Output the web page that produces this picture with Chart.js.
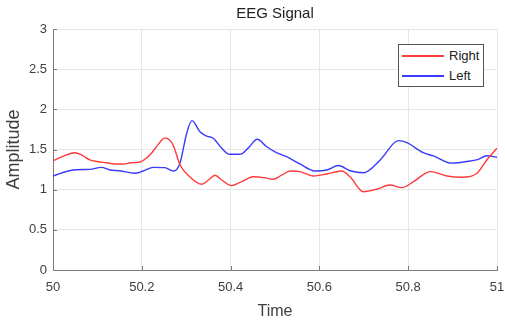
<!DOCTYPE html>
<html>
<head>
<meta charset="utf-8">
<script src="https://cdn.jsdelivr.net/npm/chart.js@4.4.1/dist/chart.umd.min.js"></script>
<style>
  html, body { margin: 0; padding: 0; background: #fff; }
  #wrap { position: relative; width: 505px; height: 322px; }
  #legend { position: absolute; left: 398px; top: 44px; width: 84px; height: 41px;
            border: 1px solid #555; background: #fff; font-family: "Liberation Sans", Arial, sans-serif;
            font-size: 13px; color: #222; }
  .item { position: absolute; left: 0; height: 16px; width: 84px; }
  .sw { position: absolute; left: 3px; top: 7px; width: 42px; height: 1.5px; }
  .lb { position: absolute; left: 50px; top: 0; line-height: 16px; }
</style>
</head>
<body>
<div id="wrap">
  <canvas id="c" width="505" height="322"></canvas>
  <div id="legend"></div>
</div>
<script>
const titleText = 'EEG Signal';
const xTitle = 'Time';
const yTitle = 'Amplitude';
const seriesLabels = ['Right', 'Left'];
const seriesColors = ['#ff3a3a', '#3a3aff'];

const rightTime = [50.000,50.025,50.049,50.065,50.083,50.100,50.120,50.140,50.158,50.175,50.196,50.218,50.238,50.252,50.262,50.271,50.286,50.308,50.335,50.350,50.365,50.380,50.402,50.425,50.451,50.475,50.496,50.515,50.534,50.556,50.586,50.617,50.650,50.669,50.699,50.729,50.759,50.786,50.812,50.850,50.887,50.921,50.955,50.977,51.000];
const rightValues = [1.36,1.42,1.46,1.43,1.37,1.35,1.335,1.32,1.32,1.335,1.345,1.43,1.57,1.645,1.62,1.55,1.31,1.16,1.067,1.12,1.18,1.12,1.05,1.10,1.16,1.15,1.13,1.18,1.232,1.225,1.17,1.195,1.232,1.16,0.975,1.005,1.058,1.025,1.10,1.224,1.17,1.154,1.204,1.37,1.515];

const leftTime = [50.000,50.045,50.083,50.109,50.128,50.150,50.184,50.203,50.226,50.252,50.271,50.286,50.301,50.313,50.331,50.345,50.361,50.380,50.398,50.421,50.440,50.460,50.480,50.500,50.526,50.556,50.590,50.617,50.643,50.669,50.699,50.737,50.778,50.797,50.834,50.857,50.898,50.940,50.958,50.977,51.000];
const leftValues = [1.17,1.245,1.253,1.278,1.245,1.236,1.204,1.232,1.278,1.274,1.232,1.33,1.70,1.86,1.72,1.67,1.64,1.515,1.44,1.44,1.52,1.627,1.54,1.47,1.41,1.32,1.232,1.245,1.30,1.236,1.21,1.37,1.61,1.585,1.46,1.42,1.33,1.357,1.378,1.423,1.403];

const xMin = 50, xMax = 51, xStep = 0.2;
const yMin = 0, yMax = 3, yStep = 0.5;

const FONT = '"Liberation Sans", Arial, Helvetica, sans-serif';
const toPts = (t, v) => t.map((x, i) => ({x: x, y: v[i]}));
const fmt = v => String(Number(Number(v).toFixed(2)));

const inwardTicks = {
  id: 'inwardTicks',
  afterDraw(chart) {
    const {ctx, chartArea, scales} = chart;
    ctx.save();
    ctx.strokeStyle = '#7a7a7a';
    ctx.lineWidth = 1;
    ctx.beginPath();
    scales.x.ticks.forEach(t => {
      const px = Math.round(scales.x.getPixelForValue(t.value)) + 0.5;
      ctx.moveTo(px, chartArea.bottom);
      ctx.lineTo(px, chartArea.bottom - 4);
    });
    scales.y.ticks.forEach(t => {
      const py = Math.round(scales.y.getPixelForValue(t.value)) + 0.5;
      ctx.moveTo(chartArea.left, py);
      ctx.lineTo(chartArea.left + 4, py);
    });
    ctx.stroke();
    ctx.restore();
  }
};

const chart = new Chart(document.getElementById('c'), {
  type: 'line',
  data: {
    datasets: [
      { label: seriesLabels[0], data: toPts(rightTime, rightValues), borderColor: seriesColors[0], borderWidth: 1.4, pointRadius: 0, cubicInterpolationMode: 'monotone', fill: false },
      { label: seriesLabels[1], data: toPts(leftTime, leftValues), borderColor: seriesColors[1], borderWidth: 1.4, pointRadius: 0, cubicInterpolationMode: 'monotone', fill: false }
    ]
  },
  options: {
    responsive: false,
    animation: false,
    devicePixelRatio: 1,
    layout: { padding: 0 },
    plugins: {
      legend: { display: false },
      tooltip: { enabled: false },
      title: { display: true, text: titleText, fullSize: false, color: '#222', font: { family: FONT, size: 15, weight: 'normal' }, padding: { top: 5, bottom: 6 } }
    },
    scales: {
      x: {
        type: 'linear', min: xMin, max: xMax,
        ticks: { stepSize: xStep, color: '#404040', font: { family: FONT, size: 13 }, padding: 10, maxRotation: 0, autoSkip: false, callback: v => fmt(v) },
        grid: { color: '#e6e6e6', drawTicks: false },
        border: { display: true, color: '#7a7a7a', width: 1 },
        title: { display: true, text: xTitle, color: '#404040', font: { family: FONT, size: 16 }, padding: { top: 0, bottom: 1 } },
        afterFit(s) { s.height = 52; s.paddingLeft = 0; s.paddingRight = 8; }
      },
      y: {
        type: 'linear', min: yMin, max: yMax,
        ticks: { stepSize: yStep, color: '#404040', font: { family: FONT, size: 13 }, padding: 6, callback: v => fmt(v) },
        grid: { color: '#e6e6e6', drawTicks: false },
        border: { display: true, color: '#7a7a7a', width: 1 },
        title: { display: true, text: yTitle, color: '#404040', font: { family: FONT, size: 18 }, padding: { top: 3, bottom: 0 } },
        afterFit(s) { s.width = 53; s.paddingTop = 0; s.paddingBottom = 0; }
      }
    }
  },
  plugins: [inwardTicks]
});

const leg = document.getElementById('legend');
chart.data.datasets.forEach((ds, i) => {
  const it = document.createElement('div');
  it.className = 'item';
  it.style.top = (3 + i * 20) + 'px';
  const sw = document.createElement('div');
  sw.className = 'sw';
  sw.style.background = ds.borderColor;
  const lb = document.createElement('div');
  lb.className = 'lb';
  lb.textContent = ds.label;
  it.appendChild(sw); it.appendChild(lb);
  leg.appendChild(it);
});
</script>
</body>
</html>
